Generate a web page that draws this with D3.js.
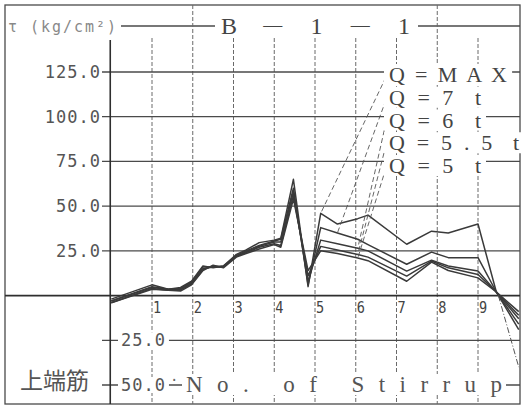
<!DOCTYPE html>
<html><head><meta charset="utf-8">
<script src="https://cdn.jsdelivr.net/npm/d3@7"></script>
<style>body{margin:0;background:#fff} text{white-space:pre}</style>
</head><body><svg id="c" width="524" height="408"></svg>
<script>
// ---- data ----
const stirrupPos = [0, 1, 1.4, 1.7, 1.97, 2.25, 2.5, 2.75, 3.07, 3.31, 3.63, 4.0, 4.16, 4.47, 4.83, 5.14, 5.55, 6.05, 6.3, 7.25, 7.86, 8.27, 9.0, 9.45, 10];
const qMax  = [-2, 6, 3.5, 4.5, 8, 16.5, 15.5, 16.5, 23, 25.5, 29.6, 31, 32, 65, 5, 46, 40, 43, 45, 28.7, 36, 35, 40, 2, -9];
const q7t   = [-3, 5, 3.5, 4, 7.5, 16, 16, 16, 22.5, 25, 28, 30.5, 31.5, 60, 6, 38, 35, 31.5, 28.5, 17.5, 24.3, 21.2, 21.2, 2, -11];
const q6t   = [-3, 4.5, 3.5, 3.5, 7, 15, 16, 16.5, 22, 24.5, 27.5, 30, 30, 58, 8, 31, 29, 26.5, 25, 13.7, 19.8, 16.5, 13.7, 2, -13];
const q55t  = [-4, 4, 3, 3, 6.5, 14.5, 16.5, 16, 22, 24, 27, 29, 28, 56, 11, 27.5, 25.5, 23, 21.5, 10.9, 19.3, 15.5, 11.8, 2, -16];
const q5t   = [-4, 3.5, 3, 2.5, 6, 14, 17, 15.5, 21.5, 23.5, 26, 28.5, 27, 54, 14, 25, 23.5, 21, 19.5, 8, 18.7, 14, 9.9, 2, -19];
const seriesLabels = ["Q = M A X", "Q = 7  t", "Q = 6  t", "Q = 5 . 5  t", "Q = 5  t"];
const leaderIndex = [15, 16, 17, 17, 17];
const tailPos = [9.5, 10];
const tailVal = [0, -40];
const yTicksPos = [125, 100, 75, 50, 25];
const yTicksNeg = [-25, -50];
const xTicks = [1, 2, 3, 4, 5, 6, 7, 8, 9];
const titleTokens = ["B", "\u2014", "1", "\u2014", "1"];
const yAxisLabel = "\u03c4 (kg/cm\u00b2)";
const xAxisTitle = "No. of Stirrup";
const sideLabel = "上端筋";

// ---- styles / layout ----
const labelWidths = [118, 92, 92, 130, 92];
const svg = d3.select("#c");
const x = d3.scaleLinear().domain([0, 10]).range([111.25, 518.75]);
const y = d3.scaleLinear().domain([-50, 125]).range([385, 72]);
const ink = "#3a3a3a", grid = "#4a4a4a";
const frame = {l: 5, t: 5, r: 520, b: 404, titleY: 26};

const g = svg.append("g");
g.append("rect").attr("x", frame.l).attr("y", frame.t).attr("width", frame.r - frame.l).attr("height", frame.b - frame.t)
  .attr("fill", "none").attr("stroke", grid).attr("stroke-width", 1.3);
g.append("line").attr("x1", 121).attr("x2", frame.r).attr("y1", frame.titleY).attr("y2", frame.titleY)
  .attr("stroke", grid).attr("stroke-width", 1.3);

g.selectAll(".vg").data(xTicks).join("line")
  .attr("x1", d => x(d)).attr("x2", d => x(d))
  .attr("y1", d => (d === 2 || d === 8) ? frame.t : 38).attr("y2", frame.b)
  .attr("stroke", "#6a6a6a").attr("stroke-width", 1).attr("stroke-dasharray", "4,2");

g.selectAll(".hg").data(yTicksPos.concat(yTicksNeg)).join("line")
  .attr("x1", 102).attr("x2", frame.r).attr("y1", d => y(d)).attr("y2", d => y(d))
  .attr("stroke", grid).attr("stroke-width", 1.3);
g.append("line").attr("x1", frame.l).attr("x2", frame.r).attr("y1", y(0)).attr("y2", y(0))
  .attr("stroke", "#2e2e2e").attr("stroke-width", 1.8);
g.append("line").attr("x1", x(0) - 1).attr("x2", x(0) - 1).attr("y1", 40).attr("y2", frame.b)
  .attr("stroke", "#2e2e2e").attr("stroke-width", 1.6);

function boxedText(parent, tx, ty, str, attrs, pad) {
  const grp = parent.append("g");
  const r = grp.append("rect").attr("fill", "#fff");
  const t = grp.append("text").attr("x", tx).attr("y", ty).text(str);
  Object.entries(attrs).forEach(([k, v]) => t.attr(k, v));
  const b = t.node().getBBox();
  const p = pad || [2, 2];
  r.attr("x", b.x - p[0]).attr("y", b.y + 2).attr("width", b.width + 2 * p[0]).attr("height", b.height - 4);
  return t;
}

const monoAttrs = {"font-family": "DejaVu Sans Mono", "font-size": 17, "fill": "#555", "letter-spacing": 1};
yTicksPos.forEach(v => {
  g.append("text").attr("x", 101).attr("y", y(v) + 6).attr("text-anchor", "end")
    .attr("font-family", "DejaVu Sans Mono").attr("font-size", 17).attr("fill", "#555").attr("letter-spacing", 1)
    .text(d3.format(".1f")(v));
});
yTicksNeg.forEach(v => {
  boxedText(g, 121, y(v) + 6, d3.format(".1f")(Math.abs(v)), monoAttrs, [3, 0]);
});

xTicks.forEach(v => {
  g.append("text").attr("x", x(v) + 1).attr("y", 313)
    .attr("font-family", "DejaVu Sans Mono").attr("font-size", 16).attr("fill", "#444")
    .attr("transform", `translate(${x(v) + 1},0) scale(0.85,1) translate(${-(x(v) + 1)},0)`)
    .text(v);
});

boxedText(g, 186, 392, xAxisTitle, {"font-family": "Liberation Serif", "font-size": 23, "fill": "#555",
  "textLength": 316, "lengthAdjust": "spacing"}, [4, 0]);
g.append("text").attr("x", 170).attr("y", 385).attr("font-family", "DejaVu Sans Mono").attr("font-size", 14)
  .attr("fill", "#666").text("·");

g.append("text").attr("x", 20).attr("y", 389).attr("font-family", "Noto Sans CJK JP").attr("font-size", 23)
  .attr("fill", "#555").text(sideLabel);

g.append("text").attr("x", 8).attr("y", 32).attr("font-family", "DejaVu Sans Mono").attr("font-size", 15)
  .attr("fill", "#888").attr("textLength", 108).attr("lengthAdjust", "spacing").text(yAxisLabel);

// title
const tx = d3.scalePoint().domain(d3.range(titleTokens.length)).range([229, 404]);
g.append("rect").attr("x", tx(0) - 14).attr("y", 14).attr("width", tx(titleTokens.length - 1) - tx(0) + 28).attr("height", 24).attr("fill", "#fff");
titleTokens.forEach((s, i) => {
  const isDash = s === "\u2014";
  g.append("text").attr("x", tx(i)).attr("y", isDash ? 31 : 34).attr("text-anchor", "middle")
    .attr("font-family", "Liberation Serif").attr("font-size", isDash ? 19 : 24).attr("fill", "#444").text(s);
});

// series
const allSeries = [qMax, q7t, q6t, q55t, q5t];
const line = d3.line().x(d => x(d[0])).y(d => y(d[1]));
allSeries.forEach(vals => {
  g.append("path").datum(stirrupPos.map((p, i) => [p, vals[i]]))
    .attr("d", line).attr("fill", "none").attr("stroke", ink).attr("stroke-width", 1.5)
    .attr("stroke-linejoin", "round");
});
g.append("path").datum(tailPos.map((p, i) => [p, tailVal[i]])).attr("d", line)
  .attr("fill", "none").attr("stroke", "#555").attr("stroke-width", 1).attr("stroke-dasharray", "6,2,1,2");

// legend
const legY = d3.scaleLinear().domain([0, 4]).range([82, 173]);
seriesLabels.forEach((s, i) => {
  const ly = legY(i);
  const vals = allSeries[i];
  const k = leaderIndex[i];
  g.append("line").attr("x1", 386).attr("y1", ly - 5).attr("x2", x(stirrupPos[k])).attr("y2", y(vals[k]))
    .attr("stroke", "#555").attr("stroke-width", 0.9).attr("stroke-dasharray", "5,3");
});
seriesLabels.forEach((s, i) => {
  boxedText(g, 389, legY(i), s, {"font-family": "Liberation Serif", "font-size": 22, "fill": "#444",
    "textLength": labelWidths[i], "lengthAdjust": "spacing"}, [5, 0]);
});
</script></body></html>
